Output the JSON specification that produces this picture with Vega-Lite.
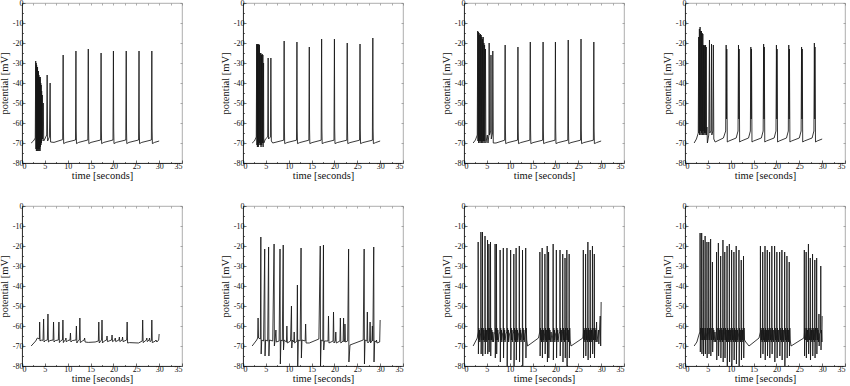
{
"$schema":"https://vega.github.io/schema/vega-lite/v6.json",
"background":"white",
"padding":{"left":-2,"top":-2,"right":0,"bottom":0},
"datasets":{"d":[
{"p":"A","t":2,"v":-70},{"p":"A","t":2.5,"v":-69},{"p":"A","t":2.9,"v":-67.5},{"p":"A","t":3,"v":-29},{"p":"A","t":3.05,"v":-73},{"p":"A","t":3.1,"v":-30},{"p":"A","t":3.15,"v":-74},{"p":"A","t":3.2,"v":-31},{"p":"A","t":3.25,"v":-73},{"p":"A","t":3.3,"v":-33},{"p":"A","t":3.35,"v":-74},{"p":"A","t":3.4,"v":-32},{"p":"A","t":3.45,"v":-73},{"p":"A","t":3.5,"v":-35},{"p":"A","t":3.55,"v":-74},{"p":"A","t":3.6,"v":-34},{"p":"A","t":3.65,"v":-73},{"p":"A","t":3.7,"v":-36},{"p":"A","t":3.75,"v":-74},{"p":"A","t":3.8,"v":-37},{"p":"A","t":3.85,"v":-73},{"p":"A","t":3.9,"v":-38},{"p":"A","t":3.95,"v":-74},{"p":"A","t":4,"v":-37},{"p":"A","t":4.05,"v":-72},{"p":"A","t":4.1,"v":-40},{"p":"A","t":4.15,"v":-71},{"p":"A","t":4.2,"v":-41},{"p":"A","t":4.25,"v":-70},{"p":"A","t":4.3,"v":-44},{"p":"A","t":4.35,"v":-69},{"p":"A","t":4.45,"v":-46},{"p":"A","t":4.5,"v":-68},{"p":"A","t":4.65,"v":-50},{"p":"A","t":4.75,"v":-69},{"p":"A","t":5,"v":-68},{"p":"A","t":5.4,"v":-66},{"p":"A","t":5.5,"v":-36},{"p":"A","t":5.6,"v":-69},{"p":"A","t":6,"v":-67},{"p":"A","t":6.15,"v":-40},{"p":"A","t":6.25,"v":-69.5},{"p":"A","t":7,"v":-69.7},{"p":"A","t":8.9,"v":-68.3},{"p":"A","t":9,"v":-26},{"p":"A","t":9.06,"v":-63},{"p":"A","t":9.12,"v":-70.3},{"p":"A","t":9.6,"v":-69.7},{"p":"A","t":11.7,"v":-68.5},{"p":"A","t":11.8,"v":-24},{"p":"A","t":11.86,"v":-63},{"p":"A","t":11.92,"v":-70.3},{"p":"A","t":12.4,"v":-69.7},{"p":"A","t":14.4,"v":-68.5},{"p":"A","t":14.5,"v":-23},{"p":"A","t":14.56,"v":-63},{"p":"A","t":14.62,"v":-70.3},{"p":"A","t":15.1,"v":-69.7},{"p":"A","t":17.2,"v":-68.5},{"p":"A","t":17.3,"v":-25},{"p":"A","t":17.36,"v":-63},{"p":"A","t":17.42,"v":-70.3},{"p":"A","t":17.9,"v":-69.7},{"p":"A","t":19.9,"v":-68.5},{"p":"A","t":20,"v":-24},{"p":"A","t":20.06,"v":-63},{"p":"A","t":20.12,"v":-70.3},{"p":"A","t":20.6,"v":-69.7},{"p":"A","t":22.7,"v":-68.5},{"p":"A","t":22.8,"v":-24},{"p":"A","t":22.86,"v":-63},{"p":"A","t":22.92,"v":-70.3},{"p":"A","t":23.4,"v":-69.7},{"p":"A","t":25.5,"v":-68.5},{"p":"A","t":25.6,"v":-24},{"p":"A","t":25.66,"v":-63},{"p":"A","t":25.72,"v":-70.3},{"p":"A","t":26.2,"v":-69.7},{"p":"A","t":28.3,"v":-68.5},{"p":"A","t":28.4,"v":-24},{"p":"A","t":28.46,"v":-63},{"p":"A","t":28.52,"v":-70.3},{"p":"A","t":29,"v":-69.7},{"p":"A","t":30,"v":-69},
{"p":"B","t":2,"v":-70},{"p":"B","t":2.5,"v":-69},{"p":"B","t":2.9,"v":-67},{"p":"B","t":3,"v":-20.5},{"p":"B","t":3.05,"v":-71},{"p":"B","t":3.1,"v":-21},{"p":"B","t":3.15,"v":-72},{"p":"B","t":3.2,"v":-20.5},{"p":"B","t":3.25,"v":-71},{"p":"B","t":3.3,"v":-21},{"p":"B","t":3.35,"v":-72},{"p":"B","t":3.45,"v":-20.5},{"p":"B","t":3.5,"v":-71},{"p":"B","t":3.6,"v":-21},{"p":"B","t":3.65,"v":-70},{"p":"B","t":3.75,"v":-25},{"p":"B","t":3.8,"v":-71},{"p":"B","t":3.9,"v":-25},{"p":"B","t":3.95,"v":-72},{"p":"B","t":4.05,"v":-26},{"p":"B","t":4.1,"v":-71},{"p":"B","t":4.2,"v":-25.5},{"p":"B","t":4.25,"v":-70},{"p":"B","t":4.35,"v":-26},{"p":"B","t":4.4,"v":-72},{"p":"B","t":4.5,"v":-30},{"p":"B","t":4.55,"v":-70},{"p":"B","t":4.9,"v":-68},{"p":"B","t":5.4,"v":-67},{"p":"B","t":5.5,"v":-27.5},{"p":"B","t":5.58,"v":-68},{"p":"B","t":6,"v":-67},{"p":"B","t":6.1,"v":-27.5},{"p":"B","t":6.2,"v":-69},{"p":"B","t":6.5,"v":-70},{"p":"B","t":8.9,"v":-68.6},{"p":"B","t":9,"v":-19},{"p":"B","t":9.06,"v":-63},{"p":"B","t":9.12,"v":-70.3},{"p":"B","t":9.6,"v":-69.8},{"p":"B","t":11.7,"v":-68.6},{"p":"B","t":11.8,"v":-19.5},{"p":"B","t":11.86,"v":-63},{"p":"B","t":11.92,"v":-70.3},{"p":"B","t":12.4,"v":-69.8},{"p":"B","t":14.4,"v":-68.6},{"p":"B","t":14.5,"v":-22},{"p":"B","t":14.56,"v":-63},{"p":"B","t":14.62,"v":-70.3},{"p":"B","t":15.1,"v":-69.8},{"p":"B","t":17.1,"v":-68.6},{"p":"B","t":17.2,"v":-18},{"p":"B","t":17.26,"v":-63},{"p":"B","t":17.32,"v":-70.3},{"p":"B","t":17.8,"v":-69.8},{"p":"B","t":19.9,"v":-68.6},{"p":"B","t":20,"v":-18},{"p":"B","t":20.06,"v":-63},{"p":"B","t":20.12,"v":-70.3},{"p":"B","t":20.6,"v":-69.8},{"p":"B","t":22.7,"v":-68.6},{"p":"B","t":22.8,"v":-20},{"p":"B","t":22.86,"v":-63},{"p":"B","t":22.92,"v":-70.3},{"p":"B","t":23.4,"v":-69.8},{"p":"B","t":25.5,"v":-68.6},{"p":"B","t":25.6,"v":-20.5},{"p":"B","t":25.66,"v":-63},{"p":"B","t":25.72,"v":-70.3},{"p":"B","t":26.2,"v":-69.8},{"p":"B","t":28.3,"v":-68.6},{"p":"B","t":28.4,"v":-17.5},{"p":"B","t":28.46,"v":-63},{"p":"B","t":28.52,"v":-70.3},{"p":"B","t":29,"v":-69.8},{"p":"B","t":30,"v":-69},
{"p":"C","t":2,"v":-70},{"p":"C","t":2.5,"v":-68.5},{"p":"C","t":2.9,"v":-66},{"p":"C","t":3,"v":-14},{"p":"C","t":3.05,"v":-69},{"p":"C","t":3.15,"v":-14.5},{"p":"C","t":3.2,"v":-70},{"p":"C","t":3.3,"v":-15},{"p":"C","t":3.35,"v":-69},{"p":"C","t":3.45,"v":-16},{"p":"C","t":3.5,"v":-70},{"p":"C","t":3.6,"v":-15.5},{"p":"C","t":3.65,"v":-69},{"p":"C","t":3.75,"v":-16},{"p":"C","t":3.8,"v":-70},{"p":"C","t":3.9,"v":-17},{"p":"C","t":3.95,"v":-69},{"p":"C","t":4.05,"v":-18},{"p":"C","t":4.1,"v":-70},{"p":"C","t":4.2,"v":-17},{"p":"C","t":4.25,"v":-69},{"p":"C","t":4.35,"v":-20},{"p":"C","t":4.4,"v":-70},{"p":"C","t":4.5,"v":-21},{"p":"C","t":4.55,"v":-69},{"p":"C","t":4.7,"v":-23},{"p":"C","t":4.78,"v":-70},{"p":"C","t":5.1,"v":-66},{"p":"C","t":5.25,"v":-70},{"p":"C","t":5.45,"v":-66},{"p":"C","t":5.5,"v":-20},{"p":"C","t":5.58,"v":-66},{"p":"C","t":5.85,"v":-64},{"p":"C","t":5.9,"v":-26},{"p":"C","t":5.97,"v":-68},{"p":"C","t":6.25,"v":-65},{"p":"C","t":6.3,"v":-24},{"p":"C","t":6.4,"v":-70},{"p":"C","t":7,"v":-70},{"p":"C","t":8.9,"v":-68.6},{"p":"C","t":9,"v":-21},{"p":"C","t":9.06,"v":-63},{"p":"C","t":9.12,"v":-70.3},{"p":"C","t":9.6,"v":-69.8},{"p":"C","t":11.7,"v":-68.6},{"p":"C","t":11.8,"v":-22},{"p":"C","t":11.86,"v":-63},{"p":"C","t":11.92,"v":-70.3},{"p":"C","t":12.4,"v":-69.8},{"p":"C","t":14.4,"v":-68.6},{"p":"C","t":14.5,"v":-19.5},{"p":"C","t":14.56,"v":-63},{"p":"C","t":14.62,"v":-70.3},{"p":"C","t":15.1,"v":-69.8},{"p":"C","t":17.2,"v":-68.6},{"p":"C","t":17.3,"v":-19.5},{"p":"C","t":17.36,"v":-63},{"p":"C","t":17.42,"v":-70.3},{"p":"C","t":17.9,"v":-69.8},{"p":"C","t":19.9,"v":-68.6},{"p":"C","t":20,"v":-19.5},{"p":"C","t":20.06,"v":-63},{"p":"C","t":20.12,"v":-70.3},{"p":"C","t":20.6,"v":-69.8},{"p":"C","t":22.7,"v":-68.6},{"p":"C","t":22.8,"v":-18.5},{"p":"C","t":22.86,"v":-63},{"p":"C","t":22.92,"v":-70.3},{"p":"C","t":23.4,"v":-69.8},{"p":"C","t":25.5,"v":-68.6},{"p":"C","t":25.6,"v":-18},{"p":"C","t":25.66,"v":-63},{"p":"C","t":25.72,"v":-70.3},{"p":"C","t":26.2,"v":-69.8},{"p":"C","t":28.3,"v":-68.6},{"p":"C","t":28.4,"v":-19.5},{"p":"C","t":28.46,"v":-63},{"p":"C","t":28.52,"v":-70.3},{"p":"C","t":29,"v":-69.8},{"p":"C","t":30,"v":-69},
{"p":"D","t":2,"v":-70},{"p":"D","t":2.5,"v":-68},{"p":"D","t":2.9,"v":-65},{"p":"D","t":3,"v":-17},{"p":"D","t":3.05,"v":-65},{"p":"D","t":3.15,"v":-13},{"p":"D","t":3.2,"v":-66},{"p":"D","t":3.3,"v":-12},{"p":"D","t":3.35,"v":-64},{"p":"D","t":3.45,"v":-14},{"p":"D","t":3.5,"v":-66},{"p":"D","t":3.6,"v":-14},{"p":"D","t":3.65,"v":-65},{"p":"D","t":3.75,"v":-15},{"p":"D","t":3.8,"v":-66},{"p":"D","t":3.9,"v":-15.5},{"p":"D","t":3.95,"v":-64},{"p":"D","t":4.05,"v":-21},{"p":"D","t":4.1,"v":-66},{"p":"D","t":4.2,"v":-21},{"p":"D","t":4.25,"v":-65},{"p":"D","t":4.35,"v":-21.5},{"p":"D","t":4.4,"v":-66},{"p":"D","t":4.5,"v":-21},{"p":"D","t":4.55,"v":-65},{"p":"D","t":4.65,"v":-22},{"p":"D","t":4.7,"v":-66},{"p":"D","t":4.8,"v":-62},{"p":"D","t":4.9,"v":-70},{"p":"D","t":5.2,"v":-66},{"p":"D","t":5.35,"v":-18.5},{"p":"D","t":5.42,"v":-65},{"p":"D","t":5.7,"v":-64},{"p":"D","t":5.8,"v":-20.5},{"p":"D","t":5.87,"v":-66},{"p":"D","t":6.1,"v":-64},{"p":"D","t":6.2,"v":-21},{"p":"D","t":6.3,"v":-68},{"p":"D","t":6.6,"v":-69.5},{"p":"D","t":8.4,"v":-67.5},{"p":"D","t":8.9,"v":-64},{"p":"D","t":9,"v":-21},{"p":"D","t":9.08,"v":-58},{"p":"D","t":9.14,"v":-23},{"p":"D","t":9.25,"v":-69.5},{"p":"D","t":9.6,"v":-69},{"p":"D","t":11.2,"v":-67.5},{"p":"D","t":11.6,"v":-64},{"p":"D","t":11.7,"v":-21},{"p":"D","t":11.78,"v":-58},{"p":"D","t":11.84,"v":-23},{"p":"D","t":11.95,"v":-69.5},{"p":"D","t":12.3,"v":-69},{"p":"D","t":13.9,"v":-67.5},{"p":"D","t":14.3,"v":-64},{"p":"D","t":14.4,"v":-22},{"p":"D","t":14.48,"v":-58},{"p":"D","t":14.54,"v":-23},{"p":"D","t":14.65,"v":-69.5},{"p":"D","t":15,"v":-69},{"p":"D","t":16.7,"v":-67.5},{"p":"D","t":17.1,"v":-64},{"p":"D","t":17.2,"v":-20.5},{"p":"D","t":17.28,"v":-58},{"p":"D","t":17.34,"v":-22},{"p":"D","t":17.45,"v":-69.5},{"p":"D","t":17.8,"v":-69},{"p":"D","t":19.5,"v":-67.5},{"p":"D","t":19.9,"v":-64},{"p":"D","t":20,"v":-21},{"p":"D","t":20.08,"v":-58},{"p":"D","t":20.14,"v":-23},{"p":"D","t":20.25,"v":-69.5},{"p":"D","t":20.6,"v":-69},{"p":"D","t":22.2,"v":-67.5},{"p":"D","t":22.6,"v":-64},{"p":"D","t":22.7,"v":-21},{"p":"D","t":22.78,"v":-58},{"p":"D","t":22.84,"v":-23},{"p":"D","t":22.95,"v":-69.5},{"p":"D","t":23.3,"v":-69},{"p":"D","t":25,"v":-67.5},{"p":"D","t":25.4,"v":-64},{"p":"D","t":25.5,"v":-22},{"p":"D","t":25.58,"v":-58},{"p":"D","t":25.64,"v":-23},{"p":"D","t":25.75,"v":-69.5},{"p":"D","t":26.1,"v":-69},{"p":"D","t":27.8,"v":-67.5},{"p":"D","t":28.2,"v":-64},{"p":"D","t":28.3,"v":-20},{"p":"D","t":28.38,"v":-58},{"p":"D","t":28.44,"v":-22},{"p":"D","t":28.55,"v":-69.5},{"p":"D","t":28.9,"v":-69},{"p":"D","t":30,"v":-68},
{"p":"E","t":2,"v":-70},{"p":"E","t":3,"v":-67.5},{"p":"E","t":3.35,"v":-66},{"p":"E","t":3.8,"v":-66.5},{"p":"E","t":3.86,"v":-58},{"p":"E","t":3.95,"v":-67.5},{"p":"E","t":4.2,"v":-67},{"p":"E","t":4.35,"v":-67.3},{"p":"E","t":4.6,"v":-67},{"p":"E","t":4.73,"v":-56.5},{"p":"E","t":4.82,"v":-68},{"p":"E","t":5.1,"v":-67.3},{"p":"E","t":5.55,"v":-67},{"p":"E","t":5.68,"v":-54},{"p":"E","t":5.78,"v":-68},{"p":"E","t":6.1,"v":-67.3},{"p":"E","t":6.8,"v":-67},{"p":"E","t":6.9,"v":-58},{"p":"E","t":7,"v":-68},{"p":"E","t":7.3,"v":-67.3},{"p":"E","t":7.95,"v":-67},{"p":"E","t":8.08,"v":-58},{"p":"E","t":8.18,"v":-68.3},{"p":"E","t":8.5,"v":-67.3},{"p":"E","t":8.85,"v":-67},{"p":"E","t":8.95,"v":-57},{"p":"E","t":9.05,"v":-68.3},{"p":"E","t":9.3,"v":-67.3},{"p":"E","t":9.55,"v":-67},{"p":"E","t":9.6,"v":-66},{"p":"E","t":9.7,"v":-68},{"p":"E","t":10,"v":-67.3},{"p":"E","t":10.5,"v":-67},{"p":"E","t":10.6,"v":-63.5},{"p":"E","t":10.7,"v":-68},{"p":"E","t":11,"v":-67.3},{"p":"E","t":11.8,"v":-67},{"p":"E","t":11.9,"v":-60},{"p":"E","t":12,"v":-68.5},{"p":"E","t":12.3,"v":-67.3},{"p":"E","t":12.55,"v":-67},{"p":"E","t":12.66,"v":-56},{"p":"E","t":12.76,"v":-68.3},{"p":"E","t":13.2,"v":-67.5},{"p":"E","t":13.6,"v":-67},{"p":"E","t":13.7,"v":-66},{"p":"E","t":13.8,"v":-68},{"p":"E","t":14.5,"v":-68.2},{"p":"E","t":16,"v":-68},{"p":"E","t":16.7,"v":-67.5},{"p":"E","t":16.8,"v":-58},{"p":"E","t":16.9,"v":-68.5},{"p":"E","t":17.2,"v":-67.5},{"p":"E","t":17.4,"v":-67},{"p":"E","t":17.5,"v":-57},{"p":"E","t":17.6,"v":-68.5},{"p":"E","t":18,"v":-67.5},{"p":"E","t":18.5,"v":-67},{"p":"E","t":18.6,"v":-65},{"p":"E","t":18.7,"v":-67.8},{"p":"E","t":19.6,"v":-67},{"p":"E","t":19.7,"v":-64.5},{"p":"E","t":19.8,"v":-67.8},{"p":"E","t":20.3,"v":-67},{"p":"E","t":20.4,"v":-66},{"p":"E","t":20.5,"v":-67.8},{"p":"E","t":21.2,"v":-67},{"p":"E","t":21.3,"v":-65.5},{"p":"E","t":21.4,"v":-67.8},{"p":"E","t":21.9,"v":-67},{"p":"E","t":22,"v":-65.5},{"p":"E","t":22.1,"v":-67.8},{"p":"E","t":22.9,"v":-67},{"p":"E","t":23,"v":-58},{"p":"E","t":23.1,"v":-68.5},{"p":"E","t":23.5,"v":-68.3},{"p":"E","t":25.5,"v":-68.5},{"p":"E","t":26.3,"v":-67.5},{"p":"E","t":26.4,"v":-57},{"p":"E","t":26.5,"v":-68.3},{"p":"E","t":27.2,"v":-67},{"p":"E","t":27.3,"v":-66},{"p":"E","t":27.4,"v":-67.8},{"p":"E","t":27.8,"v":-67},{"p":"E","t":27.9,"v":-66},{"p":"E","t":28,"v":-67.8},{"p":"E","t":28.3,"v":-67.3},{"p":"E","t":28.4,"v":-57},{"p":"E","t":28.5,"v":-68.3},{"p":"E","t":29.2,"v":-67.5},{"p":"E","t":29.3,"v":-67},{"p":"E","t":29.5,"v":-68},{"p":"E","t":29.9,"v":-67},{"p":"E","t":30,"v":-64},
{"p":"F","t":2,"v":-70},{"p":"F","t":3,"v":-67},{"p":"F","t":3.2,"v":-66},{"p":"F","t":3.3,"v":-56},{"p":"F","t":3.4,"v":-66},{"p":"F","t":3.8,"v":-66.5},{"p":"F","t":3.9,"v":-15.5},{"p":"F","t":3.97,"v":-74},{"p":"F","t":4.1,"v":-67},{"p":"F","t":4.5,"v":-67.5},{"p":"F","t":4.75,"v":-21.5},{"p":"F","t":4.82,"v":-75},{"p":"F","t":4.95,"v":-67},{"p":"F","t":5.4,"v":-67.5},{"p":"F","t":5.6,"v":-20.5},{"p":"F","t":5.67,"v":-75},{"p":"F","t":5.8,"v":-67},{"p":"F","t":6.5,"v":-67.5},{"p":"F","t":6.8,"v":-19},{"p":"F","t":6.86,"v":-70},{"p":"F","t":7,"v":-67.5},{"p":"F","t":7.2,"v":-62},{"p":"F","t":7.3,"v":-68},{"p":"F","t":7.9,"v":-67.5},{"p":"F","t":8.1,"v":-21.5},{"p":"F","t":8.17,"v":-79},{"p":"F","t":8.3,"v":-67},{"p":"F","t":8.6,"v":-67.5},{"p":"F","t":8.8,"v":-19.5},{"p":"F","t":8.86,"v":-72},{"p":"F","t":9,"v":-67},{"p":"F","t":9.5,"v":-68},{"p":"F","t":9.6,"v":-60},{"p":"F","t":9.7,"v":-68.5},{"p":"F","t":10.4,"v":-67.5},{"p":"F","t":10.6,"v":-50},{"p":"F","t":10.67,"v":-71},{"p":"F","t":10.8,"v":-67},{"p":"F","t":11.1,"v":-68},{"p":"F","t":11.2,"v":-63},{"p":"F","t":11.3,"v":-68.5},{"p":"F","t":11.8,"v":-67.5},{"p":"F","t":11.9,"v":-39.5},{"p":"F","t":11.97,"v":-80},{"p":"F","t":12.1,"v":-67},{"p":"F","t":12.5,"v":-67.5},{"p":"F","t":12.7,"v":-21},{"p":"F","t":12.77,"v":-76},{"p":"F","t":12.9,"v":-67},{"p":"F","t":13.6,"v":-67.5},{"p":"F","t":13.7,"v":-59},{"p":"F","t":13.8,"v":-68.5},{"p":"F","t":14.5,"v":-68.5},{"p":"F","t":16.6,"v":-66.5},{"p":"F","t":16.9,"v":-20},{"p":"F","t":16.96,"v":-80},{"p":"F","t":17.1,"v":-67},{"p":"F","t":17.45,"v":-67.5},{"p":"F","t":17.6,"v":-19.5},{"p":"F","t":17.66,"v":-72},{"p":"F","t":17.8,"v":-67.5},{"p":"F","t":18.6,"v":-67.5},{"p":"F","t":18.7,"v":-55},{"p":"F","t":18.8,"v":-68.5},{"p":"F","t":19.7,"v":-67.5},{"p":"F","t":19.8,"v":-53},{"p":"F","t":19.9,"v":-68.5},{"p":"F","t":20.2,"v":-67.5},{"p":"F","t":20.3,"v":-63},{"p":"F","t":20.4,"v":-68.5},{"p":"F","t":21.2,"v":-67.5},{"p":"F","t":21.3,"v":-56},{"p":"F","t":21.4,"v":-68.5},{"p":"F","t":21.9,"v":-67.5},{"p":"F","t":22,"v":-56},{"p":"F","t":22.1,"v":-68},{"p":"F","t":22.25,"v":-66.5},{"p":"F","t":22.3,"v":-59},{"p":"F","t":22.4,"v":-68},{"p":"F","t":22.9,"v":-67.5},{"p":"F","t":23.1,"v":-21.5},{"p":"F","t":23.17,"v":-78},{"p":"F","t":23.4,"v":-69.5},{"p":"F","t":26.3,"v":-67},{"p":"F","t":26.5,"v":-21.5},{"p":"F","t":26.57,"v":-79},{"p":"F","t":26.7,"v":-67},{"p":"F","t":27.1,"v":-67.5},{"p":"F","t":27.2,"v":-53},{"p":"F","t":27.3,"v":-68.5},{"p":"F","t":27.7,"v":-67.5},{"p":"F","t":27.8,"v":-58},{"p":"F","t":27.9,"v":-68.5},{"p":"F","t":28.2,"v":-67.5},{"p":"F","t":28.3,"v":-60},{"p":"F","t":28.4,"v":-67.5},{"p":"F","t":28.6,"v":-20.5},{"p":"F","t":28.66,"v":-78},{"p":"F","t":28.8,"v":-67.5},{"p":"F","t":29.1,"v":-68},{"p":"F","t":29.2,"v":-67},{"p":"F","t":29.3,"v":-68.5},{"p":"F","t":29.9,"v":-68},{"p":"F","t":30,"v":-57},
{"p":"G","t":2,"v":-70},{"p":"G","t":2.9,"v":-66},{"p":"G","t":3.06,"v":-63},{"p":"G","t":3.1,"v":-18},{"p":"G","t":3.15,"v":-74},{"p":"G","t":3.23,"v":-61},{"p":"G","t":3.32,"v":-67},{"p":"G","t":3.4,"v":-62},{"p":"G","t":3.47,"v":-68},{"p":"G","t":3.66,"v":-63},{"p":"G","t":3.7,"v":-13},{"p":"G","t":3.75,"v":-74},{"p":"G","t":3.83,"v":-61},{"p":"G","t":3.92,"v":-67},{"p":"G","t":4.01,"v":-63},{"p":"G","t":4.05,"v":-13},{"p":"G","t":4.1,"v":-75},{"p":"G","t":4.18,"v":-61},{"p":"G","t":4.27,"v":-67},{"p":"G","t":4.35,"v":-62},{"p":"G","t":4.42,"v":-68},{"p":"G","t":4.56,"v":-63},{"p":"G","t":4.6,"v":-15},{"p":"G","t":4.65,"v":-74},{"p":"G","t":4.73,"v":-61},{"p":"G","t":4.82,"v":-67},{"p":"G","t":4.9,"v":-62},{"p":"G","t":4.97,"v":-68},{"p":"G","t":5.11,"v":-63},{"p":"G","t":5.15,"v":-17},{"p":"G","t":5.2,"v":-74},{"p":"G","t":5.28,"v":-61},{"p":"G","t":5.37,"v":-67},{"p":"G","t":5.41,"v":-63},{"p":"G","t":5.45,"v":-19},{"p":"G","t":5.5,"v":-73},{"p":"G","t":5.58,"v":-61},{"p":"G","t":5.67,"v":-67},{"p":"G","t":5.76,"v":-63},{"p":"G","t":5.8,"v":-18},{"p":"G","t":5.85,"v":-75},{"p":"G","t":5.93,"v":-61},{"p":"G","t":6.02,"v":-67},{"p":"G","t":6.1,"v":-62},{"p":"G","t":6.17,"v":-68},{"p":"G","t":6.3,"v":-63},{"p":"G","t":6.45,"v":-68},{"p":"G","t":6.6,"v":-64},{"p":"G","t":6.76,"v":-63},{"p":"G","t":6.8,"v":-19},{"p":"G","t":6.85,"v":-76},{"p":"G","t":6.93,"v":-61},{"p":"G","t":7.02,"v":-67},{"p":"G","t":7.06,"v":-63},{"p":"G","t":7.1,"v":-19},{"p":"G","t":7.15,"v":-74},{"p":"G","t":7.23,"v":-61},{"p":"G","t":7.32,"v":-67},{"p":"G","t":7.4,"v":-62},{"p":"G","t":7.47,"v":-68},{"p":"G","t":7.65,"v":-64},{"p":"G","t":7.86,"v":-63},{"p":"G","t":7.9,"v":-22},{"p":"G","t":7.95,"v":-78},{"p":"G","t":8.03,"v":-61},{"p":"G","t":8.12,"v":-67},{"p":"G","t":8.2,"v":-62},{"p":"G","t":8.27,"v":-68},{"p":"G","t":8.42,"v":-64},{"p":"G","t":8.56,"v":-63},{"p":"G","t":8.6,"v":-21},{"p":"G","t":8.65,"v":-76},{"p":"G","t":8.73,"v":-61},{"p":"G","t":8.82,"v":-67},{"p":"G","t":8.9,"v":-62},{"p":"G","t":8.97,"v":-68},{"p":"G","t":9.15,"v":-64},{"p":"G","t":9.36,"v":-63},{"p":"G","t":9.4,"v":-21},{"p":"G","t":9.45,"v":-80},{"p":"G","t":9.53,"v":-61},{"p":"G","t":9.62,"v":-67},{"p":"G","t":9.7,"v":-62},{"p":"G","t":9.77,"v":-68},{"p":"G","t":9.95,"v":-64},{"p":"G","t":10.16,"v":-63},{"p":"G","t":10.2,"v":-22},{"p":"G","t":10.25,"v":-77},{"p":"G","t":10.33,"v":-61},{"p":"G","t":10.42,"v":-67},{"p":"G","t":10.5,"v":-62},{"p":"G","t":10.57,"v":-68},{"p":"G","t":10.72,"v":-64},{"p":"G","t":10.86,"v":-63},{"p":"G","t":10.9,"v":-24},{"p":"G","t":10.95,"v":-80},{"p":"G","t":11.03,"v":-61},{"p":"G","t":11.12,"v":-67},{"p":"G","t":11.2,"v":-62},{"p":"G","t":11.27,"v":-68},{"p":"G","t":11.36,"v":-63},{"p":"G","t":11.4,"v":-21},{"p":"G","t":11.45,"v":-77},{"p":"G","t":11.53,"v":-61},{"p":"G","t":11.62,"v":-67},{"p":"G","t":11.7,"v":-62},{"p":"G","t":11.77,"v":-68},{"p":"G","t":11.92,"v":-64},{"p":"G","t":12.06,"v":-63},{"p":"G","t":12.1,"v":-20},{"p":"G","t":12.15,"v":-78},{"p":"G","t":12.23,"v":-61},{"p":"G","t":12.32,"v":-67},{"p":"G","t":12.4,"v":-62},{"p":"G","t":12.47,"v":-68},{"p":"G","t":12.62,"v":-64},{"p":"G","t":12.76,"v":-63},{"p":"G","t":12.8,"v":-22},{"p":"G","t":12.85,"v":-80},{"p":"G","t":12.93,"v":-61},{"p":"G","t":13.02,"v":-67},{"p":"G","t":13.1,"v":-62},{"p":"G","t":13.17,"v":-68},{"p":"G","t":13.32,"v":-64},{"p":"G","t":13.46,"v":-63},{"p":"G","t":13.5,"v":-21},{"p":"G","t":13.55,"v":-76},{"p":"G","t":13.63,"v":-61},{"p":"G","t":13.72,"v":-67},{"p":"G","t":13.9,"v":-70},{"p":"G","t":16.3,"v":-66},{"p":"G","t":16.56,"v":-63},{"p":"G","t":16.6,"v":-23},{"p":"G","t":16.65,"v":-75},{"p":"G","t":16.73,"v":-61},{"p":"G","t":16.82,"v":-67},{"p":"G","t":16.9,"v":-62},{"p":"G","t":16.97,"v":-68},{"p":"G","t":17.06,"v":-63},{"p":"G","t":17.1,"v":-21},{"p":"G","t":17.15,"v":-76},{"p":"G","t":17.23,"v":-61},{"p":"G","t":17.32,"v":-67},{"p":"G","t":17.4,"v":-62},{"p":"G","t":17.47,"v":-68},{"p":"G","t":17.66,"v":-63},{"p":"G","t":17.7,"v":-24},{"p":"G","t":17.75,"v":-74},{"p":"G","t":17.83,"v":-61},{"p":"G","t":17.92,"v":-67},{"p":"G","t":18,"v":-62},{"p":"G","t":18.07,"v":-68},{"p":"G","t":18.16,"v":-63},{"p":"G","t":18.2,"v":-20},{"p":"G","t":18.25,"v":-78},{"p":"G","t":18.33,"v":-61},{"p":"G","t":18.42,"v":-67},{"p":"G","t":18.46,"v":-63},{"p":"G","t":18.5,"v":-23},{"p":"G","t":18.55,"v":-76},{"p":"G","t":18.63,"v":-61},{"p":"G","t":18.72,"v":-67},{"p":"G","t":18.8,"v":-62},{"p":"G","t":18.87,"v":-68},{"p":"G","t":19.05,"v":-63},{"p":"G","t":19.25,"v":-68},{"p":"G","t":19.46,"v":-63},{"p":"G","t":19.5,"v":-19},{"p":"G","t":19.55,"v":-77},{"p":"G","t":19.63,"v":-61},{"p":"G","t":19.72,"v":-67},{"p":"G","t":19.8,"v":-62},{"p":"G","t":19.87,"v":-68},{"p":"G","t":20.02,"v":-64},{"p":"G","t":20.16,"v":-63},{"p":"G","t":20.2,"v":-22},{"p":"G","t":20.25,"v":-76},{"p":"G","t":20.33,"v":-61},{"p":"G","t":20.42,"v":-67},{"p":"G","t":20.5,"v":-62},{"p":"G","t":20.57,"v":-68},{"p":"G","t":20.75,"v":-64},{"p":"G","t":20.96,"v":-63},{"p":"G","t":21,"v":-22},{"p":"G","t":21.05,"v":-75},{"p":"G","t":21.13,"v":-61},{"p":"G","t":21.22,"v":-67},{"p":"G","t":21.3,"v":-62},{"p":"G","t":21.37,"v":-68},{"p":"G","t":21.56,"v":-63},{"p":"G","t":21.6,"v":-24},{"p":"G","t":21.65,"v":-78},{"p":"G","t":21.73,"v":-61},{"p":"G","t":21.82,"v":-67},{"p":"G","t":21.9,"v":-62},{"p":"G","t":21.97,"v":-68},{"p":"G","t":22.06,"v":-63},{"p":"G","t":22.1,"v":-26},{"p":"G","t":22.15,"v":-76},{"p":"G","t":22.23,"v":-61},{"p":"G","t":22.32,"v":-67},{"p":"G","t":22.46,"v":-63},{"p":"G","t":22.5,"v":-22},{"p":"G","t":22.55,"v":-80},{"p":"G","t":22.63,"v":-61},{"p":"G","t":22.72,"v":-67},{"p":"G","t":22.8,"v":-62},{"p":"G","t":22.87,"v":-68},{"p":"G","t":22.96,"v":-63},{"p":"G","t":23,"v":-24},{"p":"G","t":23.05,"v":-76},{"p":"G","t":23.13,"v":-61},{"p":"G","t":23.22,"v":-67},{"p":"G","t":23.4,"v":-70},{"p":"G","t":26,"v":-66},{"p":"G","t":26.06,"v":-63},{"p":"G","t":26.1,"v":-22},{"p":"G","t":26.15,"v":-76},{"p":"G","t":26.23,"v":-61},{"p":"G","t":26.32,"v":-67},{"p":"G","t":26.4,"v":-62},{"p":"G","t":26.47,"v":-68},{"p":"G","t":26.56,"v":-63},{"p":"G","t":26.6,"v":-24},{"p":"G","t":26.65,"v":-75},{"p":"G","t":26.73,"v":-61},{"p":"G","t":26.82,"v":-67},{"p":"G","t":26.9,"v":-62},{"p":"G","t":26.97,"v":-68},{"p":"G","t":27.06,"v":-63},{"p":"G","t":27.1,"v":-18},{"p":"G","t":27.15,"v":-77},{"p":"G","t":27.23,"v":-61},{"p":"G","t":27.32,"v":-67},{"p":"G","t":27.4,"v":-62},{"p":"G","t":27.47,"v":-68},{"p":"G","t":27.56,"v":-63},{"p":"G","t":27.6,"v":-22},{"p":"G","t":27.65,"v":-76},{"p":"G","t":27.73,"v":-61},{"p":"G","t":27.82,"v":-67},{"p":"G","t":27.9,"v":-62},{"p":"G","t":27.97,"v":-68},{"p":"G","t":28.06,"v":-63},{"p":"G","t":28.1,"v":-20},{"p":"G","t":28.15,"v":-74},{"p":"G","t":28.23,"v":-61},{"p":"G","t":28.32,"v":-67},{"p":"G","t":28.46,"v":-63},{"p":"G","t":28.5,"v":-24},{"p":"G","t":28.55,"v":-76},{"p":"G","t":28.63,"v":-61},{"p":"G","t":28.72,"v":-67},{"p":"G","t":28.8,"v":-62},{"p":"G","t":28.87,"v":-68},{"p":"G","t":29,"v":-58},{"p":"G","t":29.1,"v":-68},{"p":"G","t":29.4,"v":-62},{"p":"G","t":29.5,"v":-69},{"p":"G","t":29.8,"v":-55},{"p":"G","t":29.9,"v":-70},{"p":"G","t":30,"v":-48},
{"p":"H","t":2,"v":-70},{"p":"H","t":2.6,"v":-68},{"p":"H","t":3.1,"v":-64},{"p":"H","t":3.26,"v":-63},{"p":"H","t":3.3,"v":-13.5},{"p":"H","t":3.35,"v":-73},{"p":"H","t":3.43,"v":-61},{"p":"H","t":3.52,"v":-67},{"p":"H","t":3.61,"v":-63},{"p":"H","t":3.65,"v":-13.5},{"p":"H","t":3.7,"v":-74},{"p":"H","t":3.78,"v":-61},{"p":"H","t":3.87,"v":-67},{"p":"H","t":3.96,"v":-63},{"p":"H","t":4,"v":-17},{"p":"H","t":4.05,"v":-75},{"p":"H","t":4.13,"v":-61},{"p":"H","t":4.22,"v":-67},{"p":"H","t":4.36,"v":-63},{"p":"H","t":4.4,"v":-15},{"p":"H","t":4.45,"v":-74},{"p":"H","t":4.53,"v":-61},{"p":"H","t":4.62,"v":-67},{"p":"H","t":4.76,"v":-63},{"p":"H","t":4.8,"v":-18},{"p":"H","t":4.85,"v":-76},{"p":"H","t":4.93,"v":-61},{"p":"H","t":5.02,"v":-67},{"p":"H","t":5.16,"v":-63},{"p":"H","t":5.2,"v":-18},{"p":"H","t":5.25,"v":-74},{"p":"H","t":5.33,"v":-61},{"p":"H","t":5.42,"v":-67},{"p":"H","t":5.56,"v":-63},{"p":"H","t":5.6,"v":-16.5},{"p":"H","t":5.65,"v":-75},{"p":"H","t":5.73,"v":-61},{"p":"H","t":5.82,"v":-67},{"p":"H","t":5.96,"v":-63},{"p":"H","t":6,"v":-28},{"p":"H","t":6.05,"v":-73},{"p":"H","t":6.13,"v":-61},{"p":"H","t":6.22,"v":-67},{"p":"H","t":6.3,"v":-62},{"p":"H","t":6.37,"v":-68},{"p":"H","t":6.55,"v":-63},{"p":"H","t":6.7,"v":-68},{"p":"H","t":6.86,"v":-63},{"p":"H","t":6.9,"v":-23},{"p":"H","t":6.95,"v":-77},{"p":"H","t":7.03,"v":-61},{"p":"H","t":7.12,"v":-67},{"p":"H","t":7.26,"v":-63},{"p":"H","t":7.3,"v":-18.5},{"p":"H","t":7.35,"v":-75},{"p":"H","t":7.43,"v":-61},{"p":"H","t":7.52,"v":-67},{"p":"H","t":7.6,"v":-62},{"p":"H","t":7.67,"v":-68},{"p":"H","t":7.76,"v":-63},{"p":"H","t":7.8,"v":-25},{"p":"H","t":7.85,"v":-76},{"p":"H","t":7.93,"v":-61},{"p":"H","t":8.02,"v":-67},{"p":"H","t":8.1,"v":-62},{"p":"H","t":8.17,"v":-68},{"p":"H","t":8.26,"v":-63},{"p":"H","t":8.3,"v":-17},{"p":"H","t":8.35,"v":-78},{"p":"H","t":8.43,"v":-61},{"p":"H","t":8.52,"v":-67},{"p":"H","t":8.66,"v":-63},{"p":"H","t":8.7,"v":-23},{"p":"H","t":8.75,"v":-76},{"p":"H","t":8.83,"v":-61},{"p":"H","t":8.92,"v":-67},{"p":"H","t":9,"v":-62},{"p":"H","t":9.07,"v":-68},{"p":"H","t":9.16,"v":-63},{"p":"H","t":9.2,"v":-20},{"p":"H","t":9.25,"v":-80},{"p":"H","t":9.33,"v":-61},{"p":"H","t":9.42,"v":-67},{"p":"H","t":9.5,"v":-62},{"p":"H","t":9.57,"v":-68},{"p":"H","t":9.66,"v":-63},{"p":"H","t":9.7,"v":-19},{"p":"H","t":9.75,"v":-78},{"p":"H","t":9.83,"v":-61},{"p":"H","t":9.92,"v":-67},{"p":"H","t":10,"v":-62},{"p":"H","t":10.07,"v":-68},{"p":"H","t":10.16,"v":-63},{"p":"H","t":10.2,"v":-22},{"p":"H","t":10.25,"v":-80},{"p":"H","t":10.33,"v":-61},{"p":"H","t":10.42,"v":-67},{"p":"H","t":10.5,"v":-62},{"p":"H","t":10.57,"v":-68},{"p":"H","t":10.66,"v":-63},{"p":"H","t":10.7,"v":-23},{"p":"H","t":10.75,"v":-77},{"p":"H","t":10.83,"v":-61},{"p":"H","t":10.92,"v":-67},{"p":"H","t":11,"v":-62},{"p":"H","t":11.07,"v":-68},{"p":"H","t":11.16,"v":-63},{"p":"H","t":11.2,"v":-20},{"p":"H","t":11.25,"v":-79},{"p":"H","t":11.33,"v":-61},{"p":"H","t":11.42,"v":-67},{"p":"H","t":11.5,"v":-62},{"p":"H","t":11.57,"v":-68},{"p":"H","t":11.76,"v":-63},{"p":"H","t":11.8,"v":-22},{"p":"H","t":11.85,"v":-80},{"p":"H","t":11.93,"v":-61},{"p":"H","t":12.02,"v":-67},{"p":"H","t":12.1,"v":-62},{"p":"H","t":12.17,"v":-68},{"p":"H","t":12.26,"v":-63},{"p":"H","t":12.3,"v":-27},{"p":"H","t":12.35,"v":-77},{"p":"H","t":12.43,"v":-61},{"p":"H","t":12.52,"v":-67},{"p":"H","t":12.6,"v":-62},{"p":"H","t":12.67,"v":-68},{"p":"H","t":12.76,"v":-63},{"p":"H","t":12.8,"v":-25},{"p":"H","t":12.85,"v":-76},{"p":"H","t":12.93,"v":-61},{"p":"H","t":13.02,"v":-67},{"p":"H","t":13.3,"v":-68},{"p":"H","t":14,"v":-70},{"p":"H","t":16.2,"v":-66},{"p":"H","t":16.46,"v":-63},{"p":"H","t":16.5,"v":-20},{"p":"H","t":16.55,"v":-76},{"p":"H","t":16.63,"v":-61},{"p":"H","t":16.72,"v":-67},{"p":"H","t":16.8,"v":-62},{"p":"H","t":16.87,"v":-68},{"p":"H","t":16.96,"v":-63},{"p":"H","t":17,"v":-23},{"p":"H","t":17.05,"v":-74},{"p":"H","t":17.13,"v":-61},{"p":"H","t":17.22,"v":-67},{"p":"H","t":17.3,"v":-62},{"p":"H","t":17.37,"v":-68},{"p":"H","t":17.46,"v":-63},{"p":"H","t":17.5,"v":-20},{"p":"H","t":17.55,"v":-77},{"p":"H","t":17.63,"v":-61},{"p":"H","t":17.72,"v":-67},{"p":"H","t":17.8,"v":-62},{"p":"H","t":17.87,"v":-68},{"p":"H","t":17.96,"v":-63},{"p":"H","t":18,"v":-22},{"p":"H","t":18.05,"v":-75},{"p":"H","t":18.13,"v":-61},{"p":"H","t":18.22,"v":-67},{"p":"H","t":18.3,"v":-62},{"p":"H","t":18.37,"v":-68},{"p":"H","t":18.46,"v":-63},{"p":"H","t":18.5,"v":-23},{"p":"H","t":18.55,"v":-76},{"p":"H","t":18.63,"v":-61},{"p":"H","t":18.72,"v":-67},{"p":"H","t":18.8,"v":-62},{"p":"H","t":18.87,"v":-68},{"p":"H","t":18.96,"v":-63},{"p":"H","t":19,"v":-20},{"p":"H","t":19.05,"v":-74},{"p":"H","t":19.13,"v":-61},{"p":"H","t":19.22,"v":-67},{"p":"H","t":19.3,"v":-62},{"p":"H","t":19.37,"v":-68},{"p":"H","t":19.56,"v":-63},{"p":"H","t":19.6,"v":-20},{"p":"H","t":19.65,"v":-78},{"p":"H","t":19.73,"v":-61},{"p":"H","t":19.82,"v":-67},{"p":"H","t":19.9,"v":-62},{"p":"H","t":19.97,"v":-68},{"p":"H","t":20.06,"v":-63},{"p":"H","t":20.1,"v":-23},{"p":"H","t":20.15,"v":-76},{"p":"H","t":20.23,"v":-61},{"p":"H","t":20.32,"v":-67},{"p":"H","t":20.4,"v":-62},{"p":"H","t":20.47,"v":-68},{"p":"H","t":20.66,"v":-63},{"p":"H","t":20.7,"v":-23},{"p":"H","t":20.75,"v":-75},{"p":"H","t":20.83,"v":-61},{"p":"H","t":20.92,"v":-67},{"p":"H","t":21,"v":-62},{"p":"H","t":21.07,"v":-68},{"p":"H","t":21.16,"v":-63},{"p":"H","t":21.2,"v":-22},{"p":"H","t":21.25,"v":-77},{"p":"H","t":21.33,"v":-61},{"p":"H","t":21.42,"v":-67},{"p":"H","t":21.5,"v":-62},{"p":"H","t":21.57,"v":-68},{"p":"H","t":21.76,"v":-63},{"p":"H","t":21.8,"v":-23},{"p":"H","t":21.85,"v":-80},{"p":"H","t":21.93,"v":-61},{"p":"H","t":22.02,"v":-67},{"p":"H","t":22.1,"v":-62},{"p":"H","t":22.17,"v":-68},{"p":"H","t":22.26,"v":-63},{"p":"H","t":22.3,"v":-25},{"p":"H","t":22.35,"v":-76},{"p":"H","t":22.43,"v":-61},{"p":"H","t":22.52,"v":-67},{"p":"H","t":22.6,"v":-62},{"p":"H","t":22.67,"v":-68},{"p":"H","t":22.76,"v":-63},{"p":"H","t":22.8,"v":-28},{"p":"H","t":22.85,"v":-75},{"p":"H","t":22.93,"v":-61},{"p":"H","t":23.02,"v":-67},{"p":"H","t":23.2,"v":-70},{"p":"H","t":26,"v":-66},{"p":"H","t":26.06,"v":-63},{"p":"H","t":26.1,"v":-22},{"p":"H","t":26.15,"v":-75},{"p":"H","t":26.23,"v":-61},{"p":"H","t":26.32,"v":-67},{"p":"H","t":26.46,"v":-63},{"p":"H","t":26.5,"v":-23},{"p":"H","t":26.55,"v":-76},{"p":"H","t":26.63,"v":-61},{"p":"H","t":26.72,"v":-67},{"p":"H","t":26.8,"v":-62},{"p":"H","t":26.87,"v":-68},{"p":"H","t":26.96,"v":-63},{"p":"H","t":27,"v":-19},{"p":"H","t":27.05,"v":-74},{"p":"H","t":27.13,"v":-61},{"p":"H","t":27.22,"v":-67},{"p":"H","t":27.36,"v":-63},{"p":"H","t":27.4,"v":-26},{"p":"H","t":27.45,"v":-77},{"p":"H","t":27.53,"v":-61},{"p":"H","t":27.62,"v":-67},{"p":"H","t":27.7,"v":-62},{"p":"H","t":27.77,"v":-68},{"p":"H","t":27.86,"v":-63},{"p":"H","t":27.9,"v":-24},{"p":"H","t":27.95,"v":-75},{"p":"H","t":28.03,"v":-61},{"p":"H","t":28.12,"v":-67},{"p":"H","t":28.2,"v":-62},{"p":"H","t":28.27,"v":-68},{"p":"H","t":28.36,"v":-63},{"p":"H","t":28.4,"v":-27},{"p":"H","t":28.45,"v":-76},{"p":"H","t":28.53,"v":-61},{"p":"H","t":28.62,"v":-67},{"p":"H","t":28.76,"v":-63},{"p":"H","t":28.8,"v":-26},{"p":"H","t":28.85,"v":-74},{"p":"H","t":28.93,"v":-61},{"p":"H","t":29.02,"v":-67},{"p":"H","t":29.1,"v":-62},{"p":"H","t":29.17,"v":-68},{"p":"H","t":29.26,"v":-63},{"p":"H","t":29.3,"v":-54},{"p":"H","t":29.35,"v":-70},{"p":"H","t":29.45,"v":-64},{"p":"H","t":29.66,"v":-63},{"p":"H","t":29.7,"v":-30},{"p":"H","t":29.75,"v":-72},{"p":"H","t":29.85,"v":-62},{"p":"H","t":29.95,"v":-68},{"p":"H","t":30,"v":-55}
]},
"data":{"name":"d"},
"facet":{"field":"p","type":"nominal","title":null,"header":{"title":null,"labels":false,"labelFontSize":0,"labelPadding":0,"labelExpr":"''"}},
"columns":4,
"spacing":{"row":43,"column":61},
"bounds":"flush",
"resolve":{"axis":{"x":"independent","y":"independent"}},
"spec":{
 "width":160,"height":160,
 "layer":[
  {"mark":{"type":"line","color":"#151515","strokeWidth":0.85,"clip":true},
   "encoding":{
    "x":{"field":"t","type":"quantitative","scale":{"domain":[0,35],"nice":false,"zero":false},
      "axis":{"values":[0,5,10,15,20,25,30,35],"title":"time [seconds]","titlePadding":0,"labelPadding":2,"titleFontWeight":"normal"}},
    "y":{"field":"v","type":"quantitative","scale":{"domain":[-80,0],"nice":false,"zero":false},
      "axis":{"values":[-80,-70,-60,-50,-40,-30,-20,-10,0],"title":"potential [mV]","labelExpr":"toString(datum.value)","titlePadding":3,"labelPadding":2,"titleFontWeight":"normal"}}}},
  {"mark":{"type":"line","strokeOpacity":0},
   "encoding":{
    "x":{"field":"t","type":"quantitative","axis":{"orient":"top","values":[0,2.5,5,7.5,10,12.5,15,17.5,20,22.5,25,27.5,30,32.5,35],"labels":false,"title":null,"domain":false,"tickColor":"#777","tickSize":-2}},
    "y":{"field":"v","type":"quantitative","axis":{"orient":"right","values":[-80,-70,-60,-50,-40,-30,-20,-10,0],"labels":false,"title":null,"domain":false,"tickColor":"#777","tickSize":-2}}}},
  {"mark":{"type":"line","strokeOpacity":0},
   "encoding":{
    "x":{"field":"t","type":"quantitative","axis":{"orient":"bottom","values":[2.5,7.5,12.5,17.5,22.5,27.5,32.5],"labels":false,"title":null,"domain":false,"tickSize":-1.5}},
    "y":{"field":"v","type":"quantitative","axis":{"orient":"left","values":[-75,-65,-55,-45,-35,-25,-15,-5],"labels":false,"title":null,"domain":false,"tickSize":-1.5}}}}
 ],
 "resolve":{"axis":{"x":"independent","y":"independent"}}
},
"config":{
 "view":{"stroke":"#999","strokeWidth":0.8},
 "header":{"labels":false,"title":null},
 "axis":{"labelFont":"Liberation Serif","titleFont":"Liberation Serif","labelFontSize":8,"titleFontSize":10.5,"titleFontWeight":"normal","labelColor":"#111","titleColor":"#111","tickColor":"#111","domainColor":"#111","domainWidth":0.8,"tickWidth":0.6,"tickSize":-3,"grid":false}
}
}
